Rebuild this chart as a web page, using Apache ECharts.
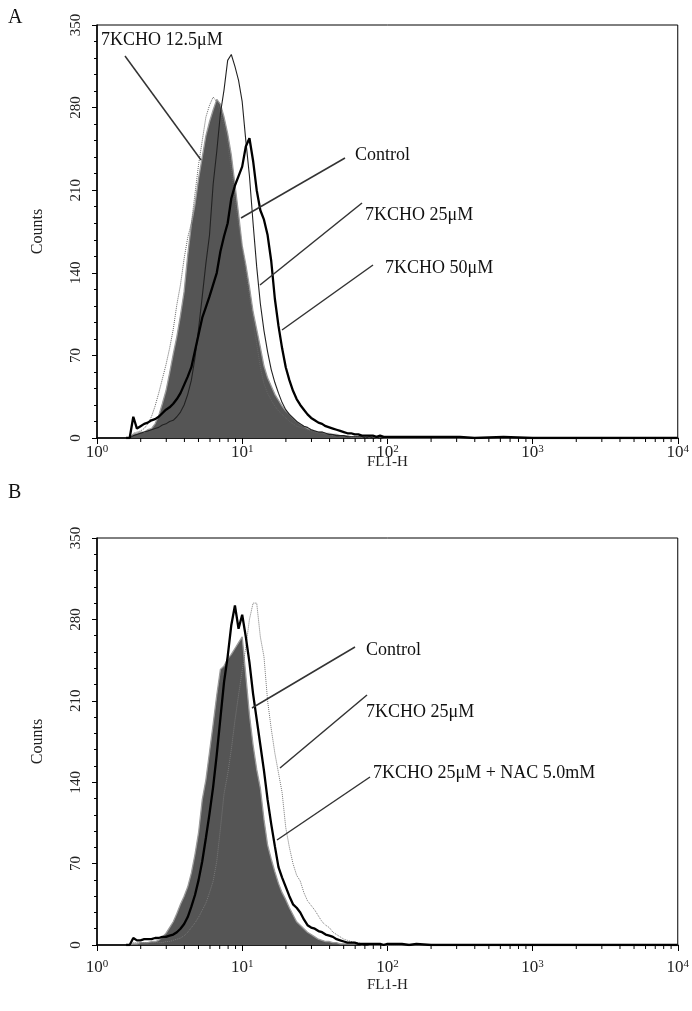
<!DOCTYPE html>
<html><head><meta charset="utf-8">
<script src="https://cdn.jsdelivr.net/npm/echarts@6/dist/echarts.min.js"></script>
<style>html,body{margin:0;padding:0;background:#fff}#c{width:692px;height:1011px}</style>
</head><body><div id="c"></div>
<script>
// log10 of FL1-H channel positions
const logFL1 = [0.200,0.225,0.250,0.275,0.300,0.325,0.350,0.375,0.400,0.425,
0.450,0.475,0.500,0.525,0.550,0.575,0.600,0.625,0.650,0.675,
0.700,0.725,0.750,0.775,0.800,0.825,0.850,0.875,0.900,0.925,
0.950,0.975,1.000,1.025,1.050,1.075,1.100,1.125,1.150,1.175,
1.200,1.225,1.250,1.275,1.300,1.325,1.350,1.375,1.400,1.425,
1.450,1.475,1.500,1.525,1.550,1.575,1.600,1.625,1.650,1.675,
1.700,1.725,1.750,1.775,1.800,1.825,1.850,1.875,1.900,1.925,
1.950,1.975,2.000,2.05,2.1,2.15,2.2,2.3,2.4,2.5,2.6,2.8,3.0,3.2,3.5,3.8,4.0];

// Panel A
const ctrlA = [0,0,3,4,5,5,7,8,12,19, 29,40,55,71,86,104,124,155,181,198, 220,238,256,268,278,287,283,272,258,240,
215,190,163,147,128,107,92,77,61,51, 44,37,32,27,23,20,17,14,12,10, 8,7,6,5,5,4,4,3,3,2, 2,2,1,
1,1,1,1,1,1,0,1,0,0, 0,0,0,0,0,0,0,0,0,0,0,0,0,0];
const k125A = [0,0,4,5,6,8,12,18,27,38, 50,62,76,92,113,130,152,170,182,207, 232,252,272,282,289,285,276,265,250,228,
202,180,160,140,120,100,80,60,46,38, 32,27,23,20,17,14,12,10,9,8, 7,6,5,4,4,3,3,2,2,2, 1,1,1,
1,1,0,1,0,0,0,0,0,0, 0,0,0,0,0,0,0,0,0,0,0,0,0,0];
const k25A = [0,0,2,3,4,5,6,7,8,9, 11,12,14,15,18,22,28,37,49,68, 93,120,148,172,215,243,275,295,320,325,
315,303,285,252,222,182,145,114,91,73, 58,47,38,30,24,20,17,14,12,10, 9,7,6,5,5,4,3,3,2,2, 2,1,1,
1,1,1,0,1,0,0,1,0,0, 0,0,0,0,0,0,0,0,0,0,0,0,0,0];
const k50A = [0,0,18,8,10,12,13,15,16,18, 21,24,26,29,33,38,45,52,60,74, 88,102,111,120,130,140,158,171,182,203,
214,222,230,247,254,235,210,193,185,172, 150,118,95,76,60,49,40,33,28,24, 20,17,15,13,12,10,9,8,7,6, 5,4,4,
3,3,2,2,2,2,1,2,1,1, 1,1,1,1,1,1,1,0,1,0,0,0,0,0];

// Panel B
const ctrlB = [0,0,1,1,2,2,2,3,3,4, 7,10,15,20,27,35,42,50,62,78, 97,125,142,166,190,215,237,240,246,250,
255,260,265,232,198,172,151,135,108,86, 74,63,53,45,39,32,26,20,17,14, 11,9,7,5,4,3,3,2,2,1, 1,1,1,
1,1,0,1,0,0,0,0,0,0, 0,0,0,0,0,0,0,0,0,0,0,0,0,0];
const k25B = [0,0,6,4,4,5,5,5,6,6, 7,7,8,9,11,14,18,24,33,43, 56,72,92,113,136,164,195,226,248,275,
292,272,284,265,243,216,194,172,150,125, 104,85,67,58,50,42,35,32,28,22, 17,15,14,12,11,9,8,7,5,4, 3,2,2,
2,1,1,1,1,1,1,1,0,1, 1,1,0,1,0,0,0,0,0,0,0,0,0,0];
const nacB = [0,0,2,2,2,2,2,2,2,2, 2,3,3,4,5,6,8,11,15,19, 24,30,36,45,55,72,100,130,147,168,
193,215,236,256,280,294,294,265,248,210, 186,165,148,131,101,84,70,60,55,45, 38,34,30,25,20,17,15,11,9,7, 5,4,3,
2,2,1,1,1,1,1,0,1,0, 0,0,0,0,0,0,0,0,0,0,0,0,0,0];

const minorTickVals = [2,3,4,5,6,7,8,9,20,30,40,50,60,70,80,90,200,300,400,500,600,700,800,900,2000,3000,4000,5000,6000,7000,8000,9000];
const yTicks = {min:0, max:350, interval:70};

const serif = '"Liberation Serif","DejaVu Serif",serif';
const pts = arr => logFL1.map((L,i)=>[Math.pow(10,L), arr[i]]);

function xAx(gi, labelMargin, nameGap){
  return {type:'log', logBase:10, min:1, max:10000, gridIndex:gi,
    name:'FL1-H', nameLocation:'middle', nameGap:nameGap, nameMoveOverlap:false,
    nameTextStyle:{fontFamily:serif, fontSize:15, color:'#222'},
    axisLine:{lineStyle:{color:'#000', width:1.5}},
    axisTick:{show:true, length:6, lineStyle:{color:'#000'}},
    minorTick:{show:false}, splitLine:{show:false},
    axisLabel:{margin:labelMargin, fontFamily:serif, fontSize:17, color:'#222',
      formatter: v => '10{s|' + Math.round(Math.log10(v)) + '}',
      rich:{s:{fontFamily:serif, fontSize:11, color:'#222', verticalAlign:'top'}}}
  };
}
function yAx(gi){
  return {type:'value', gridIndex:gi, min:yTicks.min, max:yTicks.max, interval:yTicks.interval,
    name:'Counts', nameLocation:'middle', nameGap:51, nameRotate:90, nameMoveOverlap:false,
    nameTextStyle:{fontFamily:serif, fontSize:16, color:'#222'},
    axisLine:{show:true, lineStyle:{color:'#000', width:1.5}},
    axisTick:{show:true, length:5, lineStyle:{color:'#000'}},
    minorTick:{show:true, splitNumber:5, length:3, lineStyle:{color:'#000'}},
    splitLine:{show:false},
    axisLabel:{rotate:90, margin:13, fontFamily:serif, fontSize:15, color:'#222'}
  };
}
function fillSeries(arr, gi){
  return {type:'line', xAxisIndex:gi, yAxisIndex:gi, data:pts(arr), symbol:'none',
    lineStyle:{color:'#9a9a9a', width:1.3}, areaStyle:{color:'#555555', opacity:1}, z:2};
}
function lineSeries(arr, gi, color, width, type){
  return {type:'line', xAxisIndex:gi, yAxisIndex:gi, data:pts(arr), symbol:'none',
    lineStyle:{color:color, width:width, type:type||'solid'}, z:3};
}
function minorTickSeries(gi){
  return {type:'custom', xAxisIndex:gi, yAxisIndex:gi, clip:false, silent:true, z:5,
    data: minorTickVals.map(v=>[v,0]),
    renderItem:(params, api)=>{
      const p = api.coord([api.value(0), 0]);
      return {type:'line', shape:{x1:p[0], y1:p[1], x2:p[0], y2:p[1]+4}, style:{stroke:'#000', lineWidth:1}};
    }};
}

const annotations = [
  {text:'7KCHO 12.5μM', tx:101, ty:40, from:[125,56], to:[201,160]},
  {text:'Control', tx:355, ty:155, from:[345,158], to:[241,218]},
  {text:'7KCHO 25μM', tx:365, ty:215, from:[362,203], to:[260,285]},
  {text:'7KCHO 50μM', tx:385, ty:268, from:[373,265], to:[282,330]},
  {text:'Control', tx:366, ty:650, from:[355,647], to:[252,708]},
  {text:'7KCHO 25μM', tx:366, ty:712, from:[367,695], to:[280,768]},
  {text:'7KCHO 25μM + NAC 5.0mM', tx:373, ty:773, from:[370,777], to:[277,840]}
];
const graphics = [];
annotations.forEach(a=>{
  graphics.push({type:'line', shape:{x1:a.from[0], y1:a.from[1], x2:a.to[0], y2:a.to[1]}, style:{stroke:'#333', lineWidth:1.5}, z:10});
  graphics.push({type:'text', x:a.tx, y:a.ty, style:{text:a.text, fontFamily:serif, fontSize:18, fill:'#111', align:'left', verticalAlign:'middle'}, z:10});
});
graphics.push({type:'text', x:8, y:18, style:{text:'A', fontFamily:serif, fontSize:20, fill:'#111', verticalAlign:'middle'}});
graphics.push({type:'text', x:8, y:493, style:{text:'B', fontFamily:serif, fontSize:20, fill:'#111', verticalAlign:'middle'}});

const chart = echarts.init(document.getElementById('c'), null, {renderer:'canvas'});
chart.setOption({
  animation:false,
  backgroundColor:'#fff',
  grid:[
    {left:97, right:8, top:25, bottom:573, show:true, borderColor:'#000', borderWidth:1, backgroundColor:'transparent'},
    {left:97, right:8, top:538, bottom:66, show:true, borderColor:'#000', borderWidth:1, backgroundColor:'transparent'}
  ],
  xAxis:[xAx(0, 6, 17), xAx(1, 14, 33)],
  yAxis:[yAx(0), yAx(1)],
  series:[
    fillSeries(ctrlA,0),
    lineSeries(k125A,0,'#666',1,'dotted'),
    lineSeries(k25A,0,'#222',1.1),
    lineSeries(k50A,0,'#000',2.3),
    minorTickSeries(0),
    fillSeries(ctrlB,1),
    lineSeries(nacB,1,'#777',1,'dotted'),
    lineSeries(k25B,1,'#000',2.3),
    minorTickSeries(1)
  ],
  graphic: graphics
});
</script></body></html>
